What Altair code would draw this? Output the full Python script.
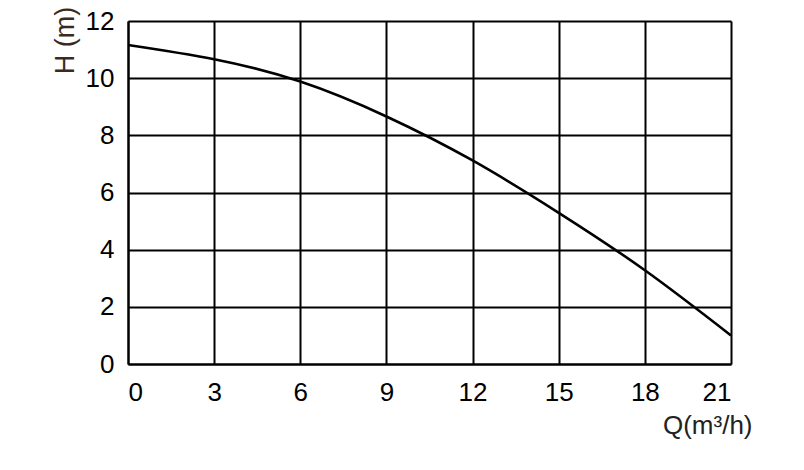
import altair as alt
import pandas as pd

q_values = [0, 3, 6, 9, 12, 15, 18, 21]
h_values = [11.16, 10.66, 9.88, 8.66, 7.12, 5.29, 3.28, 1.0]
x_ticks = [0, 3, 6, 9, 12, 15, 18, 21]
y_ticks = [0, 2, 4, 6, 8, 10, 12]

df = pd.DataFrame({"Q": q_values, "H": h_values})

FONT = "Liberation Sans"

chart = alt.Chart(df).mark_line(
    color="black", strokeWidth=2.6, interpolate="natural"
).encode(
    x=alt.X("Q:Q", scale=alt.Scale(domain=[0, 21], nice=False, zero=False),
            axis=alt.Axis(values=x_ticks, title="Q(m³/h)", grid=True,
                          gridColor="black", gridWidth=2, gridOpacity=1,
                          domainColor="black", domainWidth=2,
                          ticks=False, labelPadding=15, labelFontSize=26,
                          labelFont=FONT, labelColor="black",
                          titleFont=FONT, titleFontSize=26, titleFontWeight="normal",
                          titleColor="#222", titleAlign="right", titleBaseline="middle",
                          titleX=624, titleY=61)),
    y=alt.Y("H:Q", scale=alt.Scale(domain=[0, 12], nice=False, zero=False),
            axis=alt.Axis(values=y_ticks, title="H (m)", grid=True,
                          gridColor="black", gridWidth=2, gridOpacity=1,
                          domainColor="black", domainWidth=2,
                          ticks=False, labelPadding=14, labelFontSize=26,
                          labelFont=FONT, labelColor="black",
                          titleFont=FONT, titleFontSize=27, titleFontWeight="normal",
                          titleColor="#3a2a20", titleAngle=-90, titleAlign="center",
                          titleBaseline="middle", titleX=-63, titleY=19)),
).properties(
    width=603, height=343,
    autosize=alt.AutoSizeParams(type="none"),
    padding={"left": 120, "top": 13, "right": 60, "bottom": 90},
).configure_view(stroke=None).configure(background="white")

chart.save("out.html", embed_options={"renderer": "svg", "actions": False})
